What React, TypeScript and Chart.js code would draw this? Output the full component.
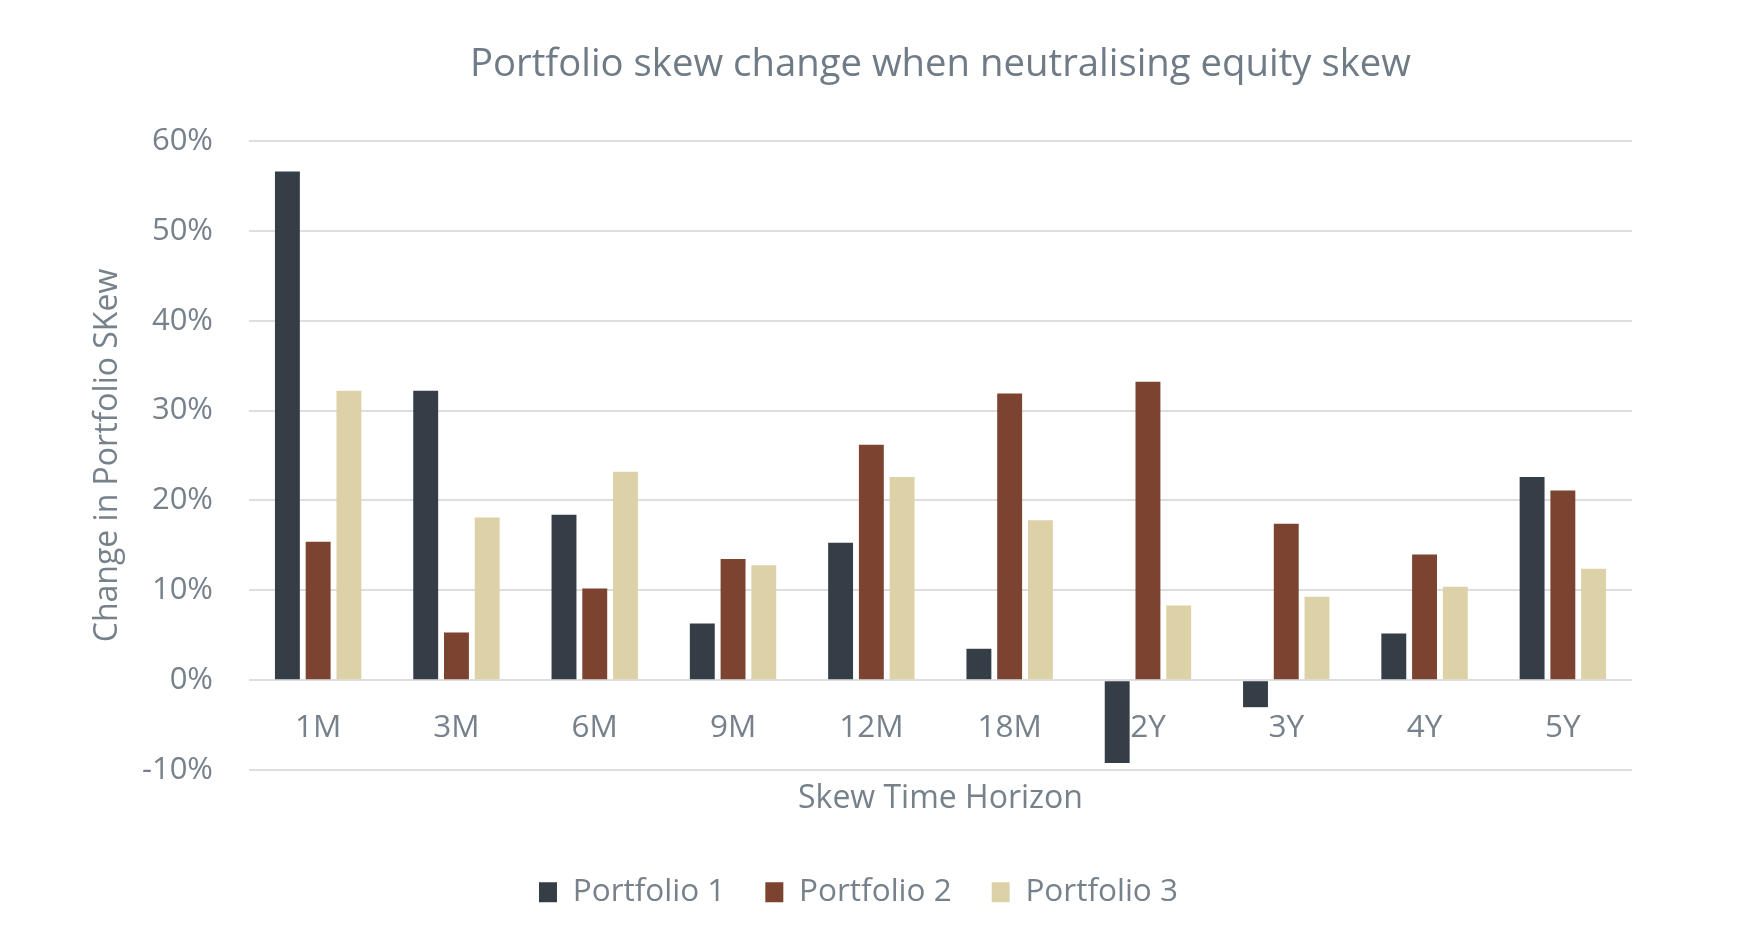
import React, { useEffect, useRef } from "react";
import { Chart, registerables } from "chart.js";

Chart.register(...registerables);

const categories = ["1M", "3M", "6M", "9M", "12M", "18M", "2Y", "3Y", "4Y", "5Y"];
const portfolio1 = [56.6, 32.2, 18.4, 6.3, 15.3, 3.5, -9.2, -3.0, 5.2, 22.6];
const portfolio2 = [15.4, 5.3, 10.2, 13.5, 26.2, 31.9, 33.2, 17.4, 14.0, 21.1];
const portfolio3 = [32.2, 18.1, 23.2, 12.8, 22.6, 17.8, 8.3, 9.3, 10.4, 12.4];
const seriesNames = ["Portfolio 1", "Portfolio 2", "Portfolio 3"];
const seriesColors = ["#353e47", "#7b4330", "#ddd1a8"];

const TEXT = "#76818b";
const FONT = "'Open Sans', sans-serif";

export default function App() {
  const ref = useRef<HTMLCanvasElement>(null);

  useEffect(() => {
    if (!ref.current) return;
    const chart = new Chart(ref.current, {
      type: "bar",
      data: {
        labels: categories,
        datasets: [portfolio1, portfolio2, portfolio3].map((d, i) => ({
          label: seriesNames[i],
          data: d,
          backgroundColor: seriesColors[i],
          borderWidth: 0,
          categoryPercentage: 0.667,
          barPercentage: 0.81,
        })),
      },
      options: {
        animation: false,
        responsive: true,
        maintainAspectRatio: false,
        layout: { padding: { left: 85, right: 118, top: 0, bottom: 20 } },
        plugins: {
          title: {
            display: true,
            text: "Portfolio skew change when neutralising equity skew",
            fullSize: false,
            color: "#6f7b87",
            font: { family: FONT, size: 38.3, weight: "normal" },
            padding: { top: 42, bottom: 53 },
          },
          legend: {
            position: "bottom",
            labels: {
              color: TEXT,
              font: { family: FONT, size: 31.5 },
              boxWidth: 18,
              boxHeight: 20,
              padding: 40,
            },
          },
          tooltip: { enabled: false },
        },
        scales: {
          x: {
            type: "category",
            position: { y: 0 } as any,
            grid: { display: false, drawTicks: false },
            border: { display: false },
            ticks: {
              color: TEXT,
              font: { family: FONT, size: 31.5 },
              padding: 29,
              maxRotation: 0,
            },
          },
          x2: {
            type: "category",
            position: "bottom",
            grid: { display: false, drawTicks: false },
            border: { display: false },
            ticks: { display: false },
            title: {
              display: true,
              text: "Skew Time Horizon",
              color: TEXT,
              font: { family: FONT, size: 32 },
              padding: { top: 10, bottom: 18 },
            },
          },
          y: {
            min: -10,
            max: 60,
            afterFit: (scale: any) => {
              scale.width = 164;
            },
            grid: { color: "#dedede", lineWidth: 2, drawTicks: false },
            border: { display: false },
            ticks: {
              stepSize: 10,
              color: TEXT,
              font: { family: FONT, size: 31 },
              padding: 36,
              callback: (v: any) => `${v}%`,
            },
            title: {
              display: true,
              text: "Change in Portfolio SKew",
              color: TEXT,
              font: { family: FONT, size: 32 },
              padding: { top: 4, bottom: 4 },
            },
          },
        },
      },
    });
    return () => chart.destroy();
  }, []);

  return (
    <div style={{ position: "fixed", left: 0, top: 0, width: 1750, height: 938, background: "#fff" }}>
      <canvas ref={ref} />
    </div>
  );
}
